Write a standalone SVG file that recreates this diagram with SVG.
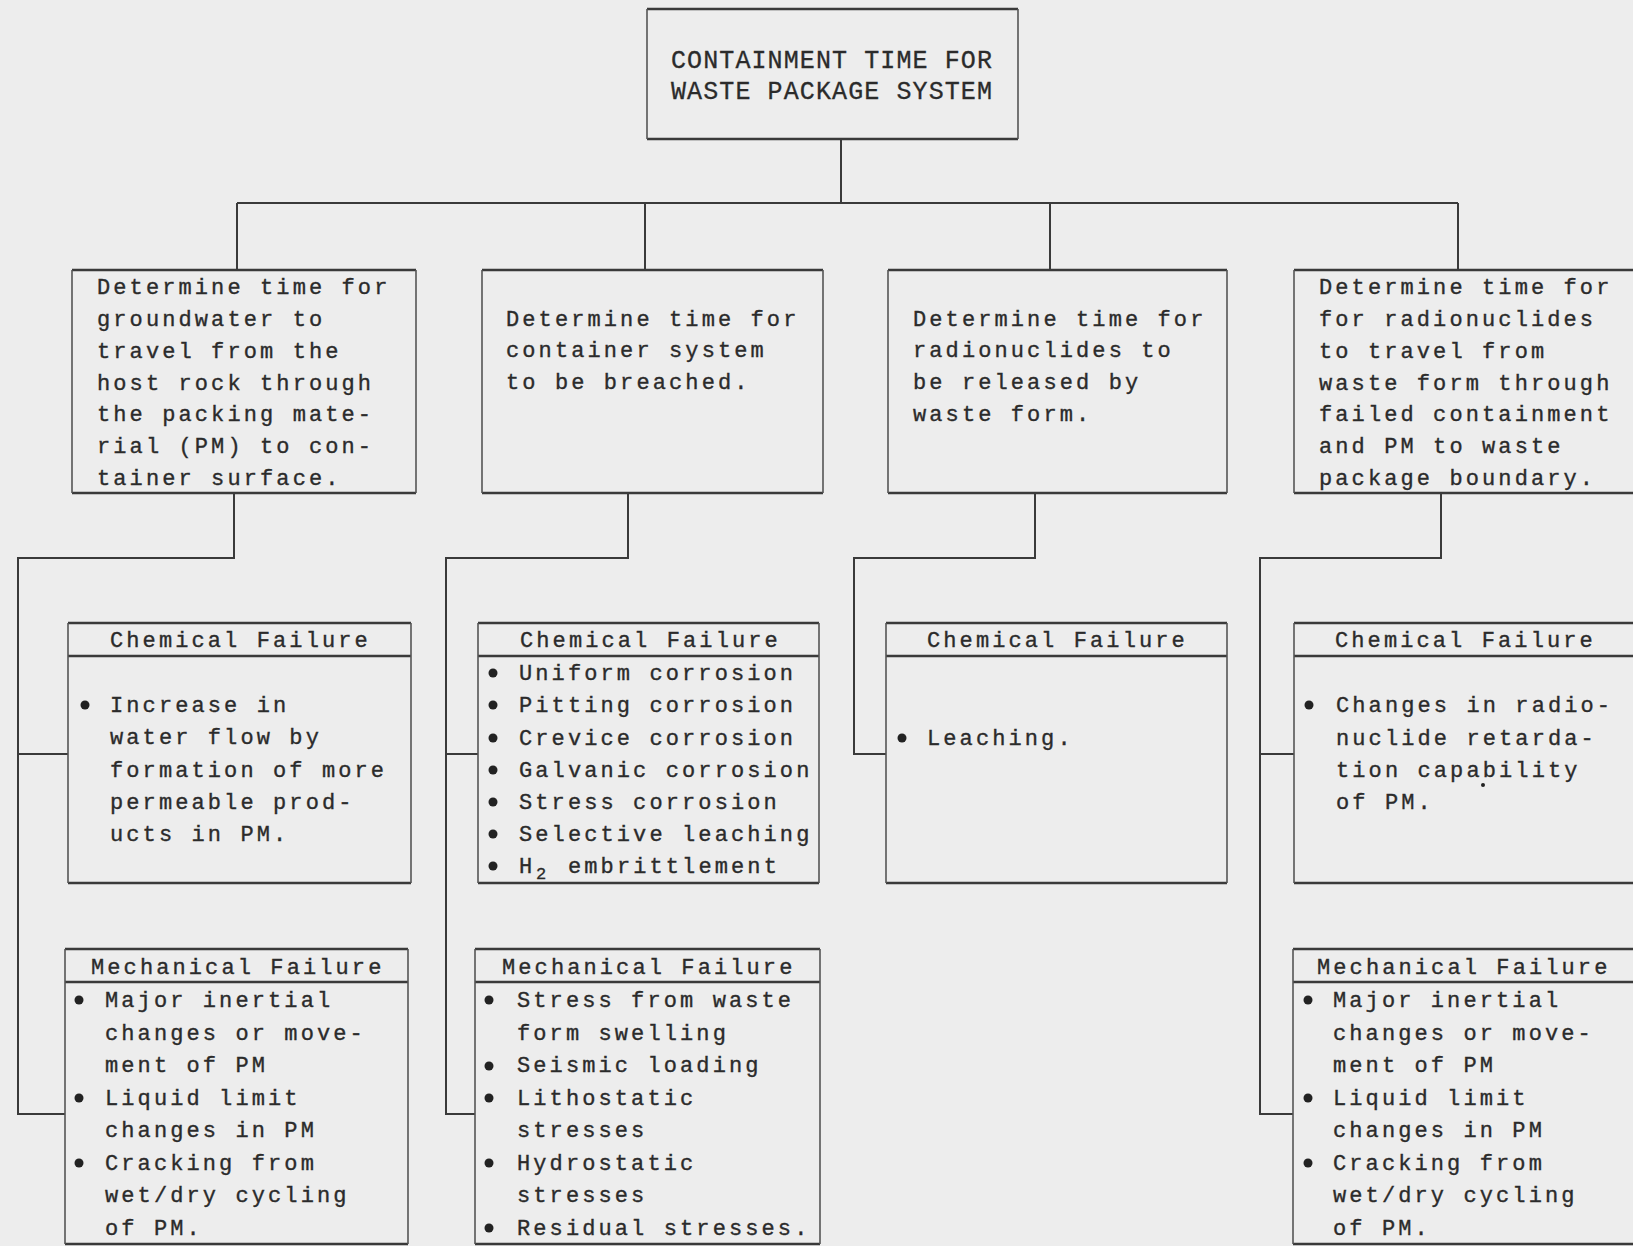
<svg xmlns="http://www.w3.org/2000/svg" width="1633" height="1246" viewBox="0 0 1633 1246">
<style>
.bg{fill:#ededed}
.h{stroke:#3a3a3a;stroke-width:2.6;fill:none}
.v{stroke:#555;stroke-width:1.6;fill:none}
.c{stroke:#3a3a3a;stroke-width:2;fill:none}
.t{font-family:"Liberation Mono","DejaVu Sans Mono",monospace;font-size:22px;letter-spacing:3.1px;fill:#2b2b2b;stroke:#2b2b2b;stroke-width:0.35px}
.tt{font-family:"Liberation Mono","DejaVu Sans Mono",monospace;font-size:25px;letter-spacing:1.1px;fill:#2b2b2b;stroke:#2b2b2b;stroke-width:0.3px}
.b{fill:#222}
</style>
<rect class="bg" x="0" y="0" width="1633" height="1246"/>

<g id="connectors">
<path class="c" d="M841,139 V203 M237,203 H1458 M237,203 V270 M645,203 V270 M1050,203 V270 M1458,203 V270"/>
<path class="c" d="M234,493 V558 H18 V1114 H65 M18,754 H68"/>
<path class="c" d="M628,493 V558 H446 V1114 H475 M446,754 H478"/>
<path class="c" d="M1035,493 V558 H854 V754 H886"/>
<path class="c" d="M1441,493 V558 H1260 V1114 H1293 M1260,754 H1294"/>
</g>

<g id="root">
<path class="h" d="M647,9 H1018 M647,139 H1018"/>
<path class="v" d="M647,9 V139 M1018,9 V139"/>
<text class="tt" x="671" y="68">CONTAINMENT TIME FOR</text>
<text class="tt" x="671" y="99">WASTE PACKAGE SYSTEM</text>
</g>

<g id="task1">
<path class="h" d="M72,270 H416 M72,493 H416"/>
<path class="v" d="M72,270 V493 M416,270 V493"/>
<text class="t"><tspan x="97" y="294">Determine time for</tspan><tspan x="97" y="326">groundwater to</tspan><tspan x="97" y="358">travel from the</tspan><tspan x="97" y="390">host rock through</tspan><tspan x="97" y="421">the packing mate-</tspan><tspan x="97" y="453">rial (PM) to con-</tspan><tspan x="97" y="485">tainer surface.</tspan></text>
</g>

<g id="task2">
<path class="h" d="M482,270 H823 M482,493 H823"/>
<path class="v" d="M482,270 V493 M823,270 V493"/>
<text class="t"><tspan x="506" y="326">Determine time for</tspan><tspan x="506" y="357">container system</tspan><tspan x="506" y="389">to be breached.</tspan></text>
</g>

<g id="task3">
<path class="h" d="M888,270 H1227 M888,493 H1227"/>
<path class="v" d="M888,270 V493 M1227,270 V493"/>
<text class="t"><tspan x="913" y="326">Determine time for</tspan><tspan x="913" y="357">radionuclides to</tspan><tspan x="913" y="389">be released by</tspan><tspan x="913" y="421">waste form.</tspan></text>
</g>

<g id="task4">
<path class="h" d="M1294,270 H1633 M1294,493 H1633"/>
<path class="v" d="M1294,270 V493"/>
<text class="t"><tspan x="1319" y="294">Determine time for</tspan><tspan x="1319" y="326">for radionuclides</tspan><tspan x="1319" y="358">to travel from</tspan><tspan x="1319" y="390">waste form through</tspan><tspan x="1319" y="421">failed containment</tspan><tspan x="1319" y="453">and PM to waste</tspan><tspan x="1319" y="485">package boundary.</tspan></text>
</g>

<g id="chem1">
<path class="h" d="M68,623 H411 M68,656 H411 M68,883 H411"/>
<path class="v" d="M68,623 V883 M411,623 V883"/>
<text class="t" x="110" y="647">Chemical Failure</text>
<circle class="b" cx="85" cy="705" r="4.5"/>
<text class="t"><tspan x="110" y="712">Increase in</tspan><tspan x="110" y="744">water flow by</tspan><tspan x="110" y="777">formation of more</tspan><tspan x="110" y="809">permeable prod-</tspan><tspan x="110" y="841">ucts in PM.</tspan></text>
</g>

<g id="chem2">
<path class="h" d="M478,623 H819 M478,656 H819 M478,883 H819"/>
<path class="v" d="M478,623 V883 M819,623 V883"/>
<text class="t" x="520" y="647">Chemical Failure</text>
<circle class="b" cx="493" cy="673" r="4.5"/>
<circle class="b" cx="493" cy="705" r="4.5"/>
<circle class="b" cx="493" cy="738" r="4.5"/>
<circle class="b" cx="493" cy="770" r="4.5"/>
<circle class="b" cx="493" cy="802" r="4.5"/>
<circle class="b" cx="493" cy="834" r="4.5"/>
<circle class="b" cx="493" cy="866" r="4.5"/>
<text class="t"><tspan x="519" y="680">Uniform corrosion</tspan><tspan x="519" y="712">Pitting corrosion</tspan><tspan x="519" y="745">Crevice corrosion</tspan><tspan x="519" y="777">Galvanic corrosion</tspan><tspan x="519" y="809">Stress corrosion</tspan><tspan x="519" y="841">Selective leaching</tspan><tspan x="519" y="873">H</tspan><tspan x="536" y="879" font-size="17">2</tspan><tspan x="568" y="873">embrittlement</tspan></text>
</g>

<g id="chem3">
<path class="h" d="M886,623 H1227 M886,656 H1227 M886,883 H1227"/>
<path class="v" d="M886,623 V883 M1227,623 V883"/>
<text class="t" x="927" y="647">Chemical Failure</text>
<circle class="b" cx="902" cy="738" r="4.5"/>
<text class="t" x="927" y="745">Leaching.</text>
</g>

<g id="chem4">
<path class="h" d="M1294,623 H1633 M1294,656 H1633 M1294,883 H1633"/>
<path class="v" d="M1294,623 V883"/>
<text class="t" x="1335" y="647">Chemical Failure</text>
<circle class="b" cx="1309" cy="705" r="4.5"/>
<text class="t"><tspan x="1336" y="712">Changes in radio-</tspan><tspan x="1336" y="745">nuclide retarda-</tspan><tspan x="1336" y="777">tion capability</tspan><tspan x="1336" y="809">of PM.</tspan></text>
<circle class="b" cx="1483" cy="785" r="2"/>
</g>

<g id="mech1">
<path class="h" d="M65,949 H408 M65,982 H408 M65,1244 H408"/>
<path class="v" d="M65,949 V1244 M408,949 V1244"/>
<text class="t" x="91" y="974">Mechanical Failure</text>
<circle class="b" cx="79" cy="1000" r="4.5"/>
<circle class="b" cx="79" cy="1098" r="4.5"/>
<circle class="b" cx="79" cy="1163" r="4.5"/>
<text class="t"><tspan x="105" y="1007">Major inertial</tspan><tspan x="105" y="1040">changes or move-</tspan><tspan x="105" y="1072">ment of PM</tspan><tspan x="105" y="1105">Liquid limit</tspan><tspan x="105" y="1137">changes in PM</tspan><tspan x="105" y="1170">Cracking from</tspan><tspan x="105" y="1202">wet/dry cycling</tspan><tspan x="105" y="1235">of PM.</tspan></text>
</g>

<g id="mech2">
<path class="h" d="M475,949 H820 M475,982 H820 M475,1244 H820"/>
<path class="v" d="M475,949 V1244 M820,949 V1244"/>
<text class="t" x="502" y="974">Mechanical Failure</text>
<circle class="b" cx="489" cy="1000" r="4.5"/>
<circle class="b" cx="489" cy="1066" r="4.5"/>
<circle class="b" cx="489" cy="1098" r="4.5"/>
<circle class="b" cx="489" cy="1163" r="4.5"/>
<circle class="b" cx="489" cy="1228" r="4.5"/>
<text class="t"><tspan x="517" y="1007">Stress from waste</tspan><tspan x="517" y="1040">form swelling</tspan><tspan x="517" y="1072">Seismic loading</tspan><tspan x="517" y="1105">Lithostatic</tspan><tspan x="517" y="1137">stresses</tspan><tspan x="517" y="1170">Hydrostatic</tspan><tspan x="517" y="1202">stresses</tspan><tspan x="517" y="1235">Residual stresses.</tspan></text>
</g>

<g id="mech4">
<path class="h" d="M1293,949 H1633 M1293,982 H1633 M1293,1244 H1633"/>
<path class="v" d="M1293,949 V1244"/>
<text class="t" x="1317" y="974">Mechanical Failure</text>
<circle class="b" cx="1308" cy="1000" r="4.5"/>
<circle class="b" cx="1308" cy="1098" r="4.5"/>
<circle class="b" cx="1308" cy="1163" r="4.5"/>
<text class="t"><tspan x="1333" y="1007">Major inertial</tspan><tspan x="1333" y="1040">changes or move-</tspan><tspan x="1333" y="1072">ment of PM</tspan><tspan x="1333" y="1105">Liquid limit</tspan><tspan x="1333" y="1137">changes in PM</tspan><tspan x="1333" y="1170">Cracking from</tspan><tspan x="1333" y="1202">wet/dry cycling</tspan><tspan x="1333" y="1235">of PM.</tspan></text>
</g>
</svg>
